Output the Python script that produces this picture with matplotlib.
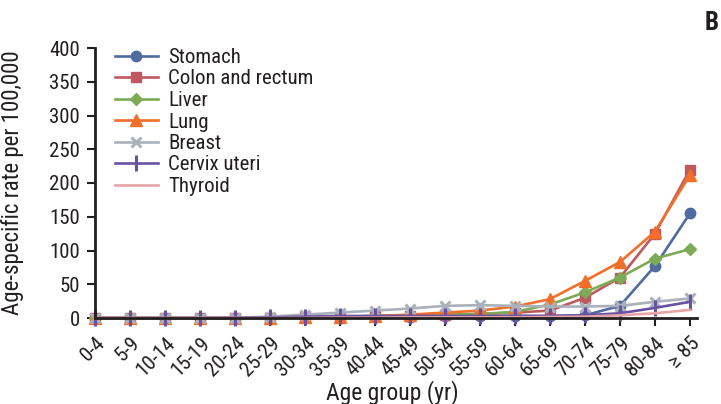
import matplotlib
matplotlib.use("Agg")
import matplotlib.pyplot as plt

ages = ['0-4', '5-9', '10-14', '15-19', '20-24', '25-29', '30-34', '35-39', '40-44',
        '45-49', '50-54', '55-59', '60-64', '65-69', '70-74', '75-79', '80-84', '≥ 85']

stomach = [0, 0, 0, 0, 0, 0.5, 1, 1.5, 2, 2, 2.5, 3, 3, 3, 4, 18, 77, 155]
colon = [0, 0, 0, 0, 0, 0.5, 1, 1.5, 2.5, 3.5, 4.5, 6, 8, 11, 30, 60, 125, 220]
liver = [0, 0, 0, 0, 0, 0.5, 1, 2, 3, 4, 5, 6, 9, 20, 38, 60, 88, 102]
lung = [0, 0, 0, 0, 0, 0.5, 1, 1.5, 3, 5, 8, 11, 17, 28, 55, 83, 128, 212]
breast = [0, 0, 0, 0, 0.5, 2, 5, 8, 11, 14, 18, 19, 18, 17, 17, 18, 24, 29]
cervix = [0, 0, 0, 0, 0.5, 1, 2, 3, 3, 3, 3, 3, 3, 3, 4, 7, 15, 24]
thyroid = [0, 0, 0, 0, 0, 0, 0, 0.5, 0.5, 1, 1, 1, 1, 1.5, 2, 4, 7, 12]

series = [
    ("Stomach", stomach, "#4F6BA0", "o", 7.5),
    ("Colon and rectum", colon, "#C0585F", "s", 7),
    ("Liver", liver, "#7FAA55", "D", 6.5),
    ("Lung", lung, "#F26F2A", "^", 8),
    ("Breast", breast, "#A9B1BB", "x", 7.5),
    ("Cervix uteri", cervix, "#6A50A2", "|", 11),
    ("Thyroid", thyroid, "#E7A4A6", None, 0),
]

plt.rcParams['font.family'] = ['Roboto Condensed', 'DejaVu Sans']
plt.rcParams['text.color'] = '#231F20'
plt.rcParams['xtick.color'] = '#231F20'
plt.rcParams['ytick.color'] = '#231F20'
plt.rcParams['axes.labelcolor'] = '#231F20'

fig = plt.figure(figsize=(7.21, 4.04), dpi=100)
L, R, T, B = 95, 697, 48, 318
ax = fig.add_axes([L / 721, 1 - B / 404, (R - L) / 721, (B - T) / 404])

x = list(range(len(ages)))
for name, vals, col, mk, ms in series:
    kw = dict(color=col, lw=1.9, label=name, clip_on=False)
    if mk:
        kw.update(marker=mk, markersize=ms, markeredgewidth=2.2 if mk in ('x', '|') else 1.0,
                  markeredgecolor=col, markerfacecolor=col)
    ax.plot(x, vals, **kw)

ax.set_xlim(0, 17.2)
ax.set_ylim(0, 400)
ax.set_yticks(range(0, 401, 50))
ax.set_xticks(x)
ax.set_xticklabels(ages, rotation=45, ha='right', va='top', rotation_mode='anchor', fontsize=15)
ax.tick_params(axis='y', labelsize=15, length=6, width=1.5, direction='out', pad=5)
ax.tick_params(axis='x', length=6, width=1.5, direction='out', pad=5)
for s in ('top', 'right'):
    ax.spines[s].set_visible(False)
for s in ('left', 'bottom'):
    ax.spines[s].set_linewidth(2)
    ax.spines[s].set_color('#231F20')

ax.set_ylabel('Age-specific rate per 100,000', fontsize=16.5)
ax.yaxis.set_label_coords((24 - L) / (R - L), 0.5)
ax.set_xlabel('Age group (yr)', fontsize=17)
ax.xaxis.set_label_coords((392 - L) / (R - L), (B - 380) / (B - T))

leg = ax.legend(loc='upper left', bbox_to_anchor=(20 / (R - L), 1.0), frameon=False, fontsize=15,
                handlelength=2.05, labelspacing=0.12, handletextpad=0.5, borderaxespad=0,
                borderpad=0)

fig.text(712 / 721, 1 - 23 / 404, 'B', fontsize=18, fontweight='bold', ha='center', va='center')

fig.savefig('out.png', dpi=100)
